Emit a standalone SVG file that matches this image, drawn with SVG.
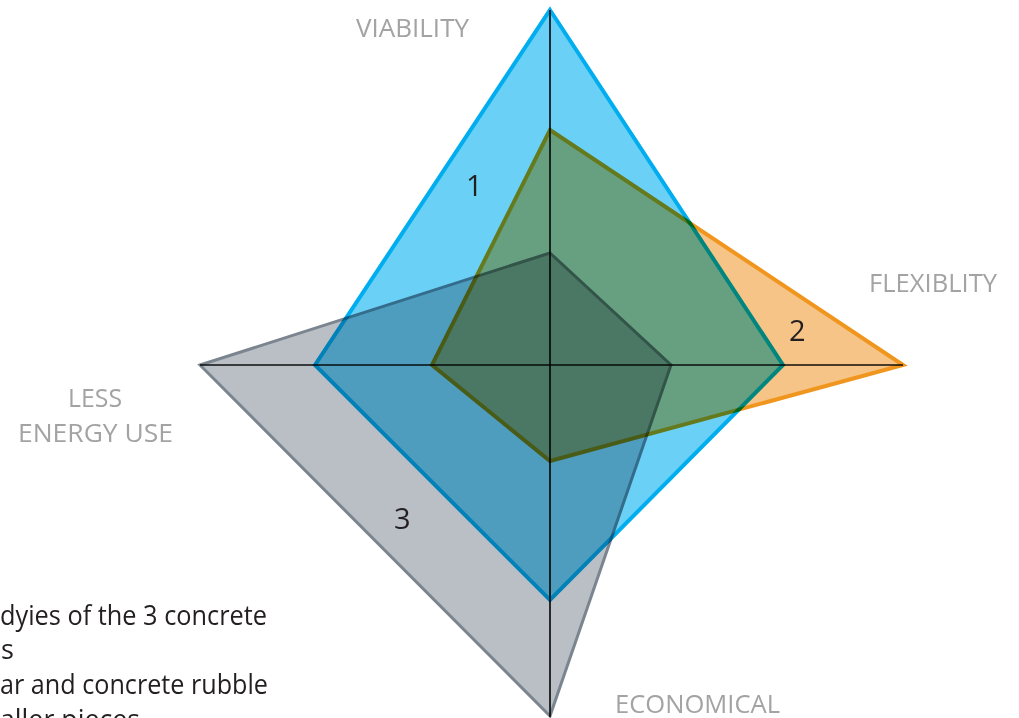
<svg xmlns="http://www.w3.org/2000/svg" width="1019" height="718" viewBox="0 0 1019 718">
  <style>
    .poly { mix-blend-mode: multiply; stroke-linejoin: miter; }
    .axis { stroke: #1a1a1a; stroke-width: 1.2; fill: none; }
    .lbl { font-family: "Open Sans", "Liberation Sans", sans-serif; font-size: 25px; fill: #a3a3a3; }
    .num { font-family: "Open Sans", "Liberation Sans", sans-serif; font-size: 29px; fill: #231f20; }
    .body { font-family: "Open Sans", "Liberation Sans", sans-serif; font-size: 27px; fill: #231f20; }
  </style>
  <rect x="0" y="0" width="1019" height="718" fill="#ffffff"/>
  <g id="connectors">
    <line class="axis" x1="200" y1="365" x2="903" y2="365"/>
    <line class="axis" x1="550" y1="10" x2="550" y2="717"/>
  </g>
  <g id="node-1">
    <polygon class="poly" points="550,10 783,365 550,600 315,365" fill="#6bd0f6" stroke="#00aeef" stroke-width="4"/>
  </g>
  <g id="node-2">
    <polygon class="poly" points="550,130 903,365 550,461 432,365" fill="#f5c486" stroke="#f0961e" stroke-width="4"/>
  </g>
  <g id="node-3">
    <polygon class="poly" points="550,253 671,365 550,716 200,365" fill="#b9bfc5" stroke="#7b8590" stroke-width="3"/>
  </g>
  <g id="axes-overlay">
    <line class="axis" x1="200" y1="365" x2="903" y2="365" style="mix-blend-mode:multiply"/>
    <line class="axis" x1="550" y1="10" x2="550" y2="717" style="mix-blend-mode:multiply"/>
  </g>
  <g id="labels">
    <text class="lbl" x="356" y="37" textLength="113" lengthAdjust="spacingAndGlyphs">VIABILITY</text>
    <text class="lbl" x="869" y="292" textLength="128" lengthAdjust="spacingAndGlyphs">FLEXIBLITY</text>
    <text class="lbl" x="68" y="407" textLength="54" lengthAdjust="spacingAndGlyphs">LESS</text>
    <text class="lbl" x="18" y="442" textLength="155" lengthAdjust="spacingAndGlyphs">ENERGY  USE</text>
    <text class="lbl" x="615" y="713" textLength="165" lengthAdjust="spacingAndGlyphs">ECONOMICAL</text>
  </g>
  <g id="numbers">
    <text class="num" x="466" y="196">1</text>
    <text class="num" x="789" y="341">2</text>
    <text class="num" x="394" y="529">3</text>
  </g>
  <g id="caption">
    <text class="body" x="0" y="625" textLength="267" lengthAdjust="spacingAndGlyphs">dyies of the 3 concrete</text>
    <text class="body" x="1" y="659">s</text>
    <text class="body" x="0" y="694" textLength="268" lengthAdjust="spacingAndGlyphs">ar and concrete rubble</text>
    <text class="body" x="0" y="729" textLength="140" lengthAdjust="spacingAndGlyphs">aller pieces</text>
  </g>
</svg>
